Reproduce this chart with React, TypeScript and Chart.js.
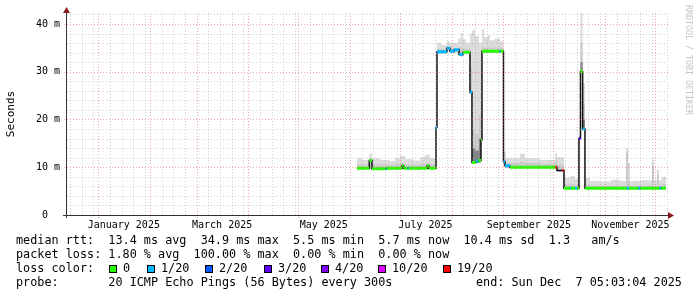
import { useEffect, useRef } from "react";
import { Chart, registerables } from "chart.js";

Chart.register(...registerables);

// ---- axis / tick data (days counted from 1 Jan 2025 00:00) ----
const X_MIN = -18.78;
const X_MAX = 341.22;
const Y_MAX = 42.3;
const monthLabelIdx = [0, 2, 4, 6, 8, 10];
const monthNames = ["January", "February", "March", "April", "May", "June", "July", "August", "September", "October", "November", "December"];
const yTickValues = [0, 10, 20, 30, 40];
const yTickLabels = ["0", "10 m", "20 m", "30 m", "40 m"];

// ---- median rtt segments (ms) ----
const medStart = [155.2, 162.6, 164.2, 172.2, 173.0, 182.2, 183.2, 185.5, 186.3, 197.3, 198.3, 202.6, 203.2, 209.2, 211.0, 213.5, 216.5, 218.8, 223.0, 224.2, 226.5, 228.0, 229.6, 230.2, 240.5, 241.3, 243.1, 244.0, 247.0, 274.2, 275.2, 278.6, 279.4, 283.0, 283.6, 286.0, 287.2, 288.4, 289.3, 290.6, 292.0, 317.0, 318.4, 324.0, 325.2, 336.8, 337.8];
const medEndLast = 340.6;
const medValue = [9.8, 11.4, 9.7, 9.7, 9.8, 10.3, 9.8, 9.8, 9.8, 10.3, 9.8, 18.3, 34.2, 34.9, 34.3, 34.6, 33.6, 34.1, 25.7, 11.0, 11.3, 11.4, 15.7, 34.3, 34.3, 34.3, 11.2, 10.3, 10.0, 10.0, 9.3, 9.3, 5.6, 5.6, 5.6, 5.6, 5.6, 16.0, 30.0, 18.0, 5.6, 5.6, 5.6, 5.6, 5.6, 5.6, 5.6];
const medLoss = [0, 0, 0, 1, 0, 0, 0, 1, 0, 0, 0, 1, 1, 1, 1, 1, 1, 0, 1, 0, 1, 0, 0, 0, 1, 0, 1, 1, 0, 6, -1, 6, 0, 1, 0, 1, 0, 3, 0, 1, 0, 1, 0, 1, 0, 1, 0];

// ---- smoke (ping spread, ms) ----
const smokeDay = [155.2, 158.2, 162.6, 164.2, 169.0, 175.0, 178.0, 181.0, 184.0, 189.0, 193.0, 196.0, 199.0, 202.6, 203.2, 206.0, 209.2, 211.0, 214.0, 215.8, 217.6, 218.8, 220.6, 223.0, 224.2, 226.0, 228.4, 229.6, 230.2, 231.5, 233.8, 235.0, 238.0, 241.0, 243.1, 244.6, 253.0, 256.0, 265.0, 274.0, 275.2, 279.4, 283.0, 286.0, 288.4, 289.3, 290.6, 292.0, 295.0, 301.0, 307.6, 313.0, 316.6, 317.8, 319.0, 325.0, 332.2, 333.4, 335.2, 336.4, 338.2, 340.6];
const smokeLo = [9.6, 9.6, 9.6, 9.6, 9.6, 9.6, 9.6, 9.6, 9.6, 9.6, 9.6, 9.6, 9.6, 17.9, 33.8, 33.8, 34.4, 33.9, 33.9, 33.5, 33.2, 33.7, 33.7, 25.5, 10.9, 10.9, 11.0, 15.5, 33.9, 33.9, 33.9, 33.9, 33.9, 33.9, 10.2, 9.8, 9.8, 9.8, 9.8, 9.8, 9.1, 5.4, 5.4, 5.4, 15.8, 29.8, 18.0, 5.4, 5.4, 5.4, 5.4, 5.4, 5.4, 5.4, 5.4, 5.4, 5.4, 5.4, 5.4, 5.4, 5.4, 5.4];
const smokeDark = [9.6, 9.6, 9.6, 9.6, 9.6, 9.6, 9.6, 9.6, 9.6, 9.6, 9.6, 9.6, 9.6, 17.9, 33.8, 33.8, 34.4, 33.9, 33.9, 33.5, 33.2, 33.7, 33.7, 25.5, 14.0, 13.5, 16.0, 15.5, 33.9, 33.9, 33.9, 33.9, 33.9, 33.9, 10.2, 9.8, 9.8, 9.8, 9.8, 9.8, 9.1, 5.4, 5.4, 5.4, 15.8, 32.0, 20.0, 5.4, 5.4, 5.4, 5.4, 5.4, 5.4, 5.4, 5.4, 5.4, 5.4, 5.4, 5.4, 5.4, 5.4, 5.4];
const smokeMid = [10.7, 10.6, 11.9, 10.7, 10.6, 10.5, 10.7, 10.9, 10.6, 10.5, 10.7, 10.9, 10.7, 18.4, 34.8, 34.8, 35.3, 35.0, 35.0, 35.2, 35.0, 34.8, 34.8, 31.0, 18.0, 17.0, 21.0, 24.0, 35.2, 35.0, 35.2, 35.0, 35.0, 35.0, 11.4, 10.9, 11.1, 10.9, 10.7, 11.4, 10.5, 6.4, 6.5, 6.3, 16.2, 36.0, 23.0, 6.3, 6.1, 6.1, 6.2, 6.1, 13.2, 7.0, 6.1, 6.2, 10.5, 6.2, 8.5, 6.2, 6.5, 6.5];
const smokeHi = [11.9, 11.5, 12.8, 11.9, 11.5, 11.3, 11.9, 12.4, 11.7, 11.4, 12.1, 12.6, 11.9, 18.8, 36.0, 35.6, 36.4, 36.0, 36.0, 37.0, 38.1, 36.8, 36.0, 38.0, 38.7, 37.5, 36.0, 36.0, 38.9, 37.2, 37.7, 36.6, 37.0, 36.4, 13.3, 11.9, 12.8, 11.9, 11.5, 12.9, 12.1, 7.8, 8.1, 7.6, 16.6, 42.3, 27.6, 7.7, 7.1, 7.0, 7.4, 7.1, 14.0, 10.9, 7.1, 7.3, 11.7, 7.3, 9.4, 7.3, 8.0, 8.0];

// ---- loss colours ----
const lossColors = ["#26ff00", "#00b8ff", "#0059ff", "#5e00ff", "#7e00ff", "#dd00ff", "#ff0000"];
const lossLabels = ["0", "1/20", "2/20", "3/20", "4/20", "10/20", "19/20"];

// ---- legend texts ----
const legendRow1 = "median rtt:  13.4 ms avg  34.9 ms max  5.5 ms min  5.7 ms now  10.4 ms sd  1.3   am/s";
const legendRow2 = "packet loss: 1.80 % avg  100.00 % max  0.00 % min  0.00 % now";
const legendRow4 = "probe:       20 ICMP Echo Pings (56 Bytes) every 300s";
const legendEnd = "end: Sun Dec  7 05:03:04 2025";
const lossBoxX = [109, 147, 205, 264, 321, 378, 443];

const MONO = "'DejaVu Sans Mono', monospace";

function dayOf(yr: number, m: number, d: number) {
  return (Date.UTC(yr, m, d) - Date.UTC(2025, 0, 1)) / 86400000;
}

function buildMonthStarts() {
  const out: number[] = [];
  for (let m = 0; m < 12; m++) out.push(dayOf(2025, m, 1));
  return out;
}
function buildMinorDays() {
  const out: number[] = [];
  for (let k = -1; k < 12; k++) {
    const yr = k < 0 ? 2024 : 2025;
    const m = k < 0 ? 11 : k;
    const start = dayOf(yr, m, 1);
    const next = k < 0 ? dayOf(2025, 0, 1) : (m === 11 ? dayOf(2026, 0, 1) : dayOf(2025, m + 1, 1));
    for (const off of [7, 14, 21, 28]) {
      const d = start + off;
      if (d < next && d > X_MIN && d < X_MAX) out.push(d);
    }
  }
  return out;
}

function makeDatasets() {
  const pts = (arr: number[]) => smokeDay.map((d, i) => ({ x: d, y: arr[i] }));
  const ds: any[] = [];
  ds.push({ data: pts(smokeLo), borderWidth: 0, borderColor: "rgba(0,0,0,0)", fill: false, stepped: true, order: 10 });
  ds.push({ data: pts(smokeHi), borderWidth: 0, borderColor: "rgba(0,0,0,0)", backgroundColor: "#dcdcdc", fill: 0, stepped: true, order: 9 });
  ds.push({ data: pts(smokeMid), borderWidth: 0, borderColor: "rgba(0,0,0,0)", backgroundColor: "#cbcbcb", fill: 0, stepped: true, order: 8 });
  ds.push({ data: pts(smokeDark), borderWidth: 0, borderColor: "rgba(0,0,0,0)", backgroundColor: "#858585", fill: 0, stepped: true, order: 7 });
  const blk: any[] = medStart.map((d, i) => ({ x: d, y: medValue[i] }));
  blk.push({ x: medEndLast, y: medValue[medValue.length - 1] });
  ds.push({ data: blk, borderWidth: 1.5, borderColor: "#111111", fill: false, stepped: true, order: 5 });
  lossColors.forEach((col, li) => {
    const data: any[] = [];
    medStart.forEach((d, i) => {
      if (medLoss[i] !== li) return;
      const end = i + 1 < medStart.length ? medStart[i + 1] : medEndLast;
      data.push({ x: d, y: medValue[i] }, { x: end, y: medValue[i] }, { x: end, y: null });
    });
    ds.push({ data, borderWidth: 3, borderColor: col, borderCapStyle: "butt", fill: false, spanGaps: false, order: 1 });
  });
  return ds;
}

const decor = {
  id: "rrdDecor",
  beforeDraw(chart: any) {
    const c = chart.ctx;
    c.save();
    c.fillStyle = "#ffffff";
    c.fillRect(0, 0, chart.width, chart.height);
    c.restore();
  },
  afterDatasetsDraw(chart: any) {
    const ctx: CanvasRenderingContext2D = chart.ctx;
    const a = chart.chartArea;
    const xs = chart.scales.x;
    const ys = chart.scales.y;
    const minorCol = "rgba(150,150,150,0.45)";
    const majorCol = "rgba(225,80,80,0.5)";
    const seg = (x1: number, y1: number, x2: number, y2: number, col: string) => {
      ctx.strokeStyle = col;
      ctx.beginPath();
      ctx.moveTo(x1, y1);
      ctx.lineTo(x2, y2);
      ctx.stroke();
    };
    ctx.save();
    ctx.lineWidth = 1;
    ctx.setLineDash([1, 2]);
    const top = a.top;
    const bot = a.bottom;
    for (let v = 2; v <= Y_MAX; v += 2) {
      if (v % 10 === 0) continue;
      const py = Math.round(ys.getPixelForValue(v)) + 0.5;
      seg(a.left, py, a.right, py, minorCol);
    }
    for (const d of buildMinorDays()) {
      const px = Math.round(xs.getPixelForValue(d)) + 0.5;
      seg(px, bot, px, top, minorCol);
    }
    for (const v of yTickValues) {
      if (v === 0) continue;
      const py = Math.round(ys.getPixelForValue(v)) + 0.5;
      seg(a.left - 3, py, a.right + 3, py, majorCol);
    }
    for (const d of buildMonthStarts()) {
      const px = Math.round(xs.getPixelForValue(d)) + 0.5;
      seg(px, bot + 3, px, top, majorCol);
    }
    ctx.setLineDash([]);
    const ax = Math.round(a.left) - 0.5;
    const ay = Math.round(bot) + 0.5;
    seg(ax, bot + 3, ax, top - 3, "#333333");
    seg(a.left - 4, ay, a.right + 2, ay, "#333333");
    ctx.fillStyle = "#8b1c1c";
    ctx.beginPath();
    ctx.moveTo(ax, top - 6);
    ctx.lineTo(ax - 3.5, top);
    ctx.lineTo(ax + 3.5, top);
    ctx.closePath();
    ctx.fill();
    ctx.beginPath();
    ctx.moveTo(a.right + 7, ay);
    ctx.lineTo(a.right + 1, ay - 3.5);
    ctx.lineTo(a.right + 1, ay + 3.5);
    ctx.closePath();
    ctx.fill();

    ctx.fillStyle = "#000000";
    ctx.font = `10px ${MONO}`;
    ctx.textBaseline = "middle";
    ctx.textAlign = "right";
    yTickValues.forEach((v, i) => {
      const py = ys.getPixelForValue(v);
      ctx.fillText(yTickLabels[i], v === 0 ? 48 : 60, py);
    });
    ctx.textAlign = "center";
    for (const m of monthLabelIdx) {
      const d = dayOf(2025, m, 1) + 15.3;
      ctx.fillText(`${monthNames[m]} 2025`, xs.getPixelForValue(d), 225);
    }
    ctx.save();
    ctx.translate(11, 114);
    ctx.rotate(-Math.PI / 2);
    ctx.font = `11px ${MONO}`;
    ctx.fillText("Seconds", 0, 0);
    ctx.restore();
    ctx.save();
    ctx.translate(688, 60);
    ctx.rotate(Math.PI / 2);
    ctx.font = `8.3px ${MONO}`;
    ctx.fillStyle = "#c4c4c4";
    ctx.fillText("RRDTOOL / TOBI OETIKER", 0, 0);
    ctx.restore();

    ctx.textAlign = "left";
    ctx.font = `11.8px ${MONO}`;
    ctx.fillStyle = "#000000";
    ctx.fillText(legendRow1, 16, 241);
    ctx.fillText(legendRow2, 16, 255);
    ctx.fillText("loss color:", 16, 269);
    lossColors.forEach((col, i) => {
      const bx = lossBoxX[i];
      ctx.fillStyle = col;
      ctx.fillRect(bx, 265, 8, 8);
      ctx.strokeStyle = "#000000";
      ctx.lineWidth = 1;
      ctx.strokeRect(bx + 0.5, 265.5, 7, 7);
      ctx.fillStyle = "#000000";
      ctx.fillText(lossLabels[i], bx + 14, 269);
    });
    ctx.fillText(legendRow4, 16, 283);
    ctx.fillText(legendEnd, 476, 283);
    ctx.restore();
  },
};

export default function App() {
  const ref = useRef<HTMLCanvasElement>(null);
  useEffect(() => {
    document.body.style.margin = "0";
    const canvas = ref.current;
    if (!canvas) return;
    const chart = new Chart(canvas, {
      type: "line",
      data: { datasets: makeDatasets() },
      options: {
        animation: false,
        responsive: false,
        maintainAspectRatio: false,
        events: [],
        layout: { padding: { left: 67, right: 30, top: 13, bottom: 82 } },
        elements: { point: { radius: 0 }, line: { tension: 0 } },
        scales: {
          x: { type: "linear", min: X_MIN, max: X_MAX, display: false },
          y: { type: "linear", min: 0, max: Y_MAX, display: false },
        },
        plugins: { legend: { display: false }, tooltip: { enabled: false } },
      },
      plugins: [decor],
    } as any);
    return () => chart.destroy();
  }, []);
  return <canvas ref={ref} width={697} height={297} style={{ display: "block", width: 697, height: 297 }} />;
}
